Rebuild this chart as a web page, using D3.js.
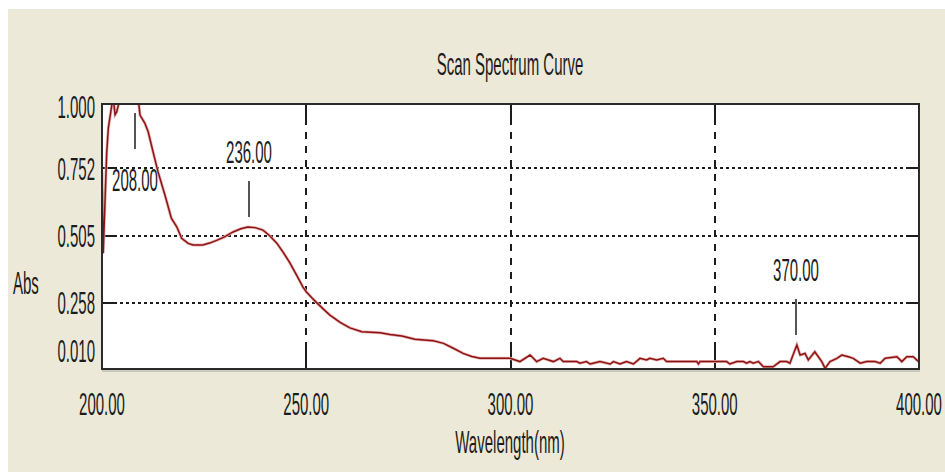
<!DOCTYPE html>
<html>
<head>
<meta charset="utf-8">
<script src="https://cdn.jsdelivr.net/npm/d3@7"></script>
<style>
  html, body { margin: 0; padding: 0; background: #fff; }
  svg { display: block; }
</style>
</head>
<body>
<div id="chart"></div>
<script>
// spectrum (nm / Abs)
const wavelength = [
  200.0, 200.3, 201.15, 201.55, 202.4, 202.8, 203.2, 203.6, 204.0, 204.5,
  206.0, 208.0, 208.6, 209.0, 209.3, 210.5, 211.3, 212.5, 213.7, 215.4,
  217.0, 218.3, 219.5, 221.1, 222.3, 224.7, 226.5, 228.2, 230.0, 232.1,
  234.0, 235.7, 237.5, 239.4, 241.0, 242.8, 244.4, 246.0, 247.6, 249.2,
  250.0, 251.3, 252.6, 254.2, 255.8, 258.3, 260.7, 263.6, 268.1, 270.5,
  273.4, 276.6, 281.1, 283.6, 286.0, 288.4, 290.5, 292.5, 299.9, 302.3,
  304.8, 306.4, 308.0, 310.5, 312.1, 312.9, 316.2, 317.0, 318.6, 319.5,
  321.9, 324.4, 325.2, 326.8, 328.4, 330.1, 331.7, 333.3, 334.1, 335.8,
  337.4, 338.2, 345.6, 346.0, 346.4, 352.9, 353.7, 355.4, 357.0, 357.8,
  358.6, 359.4, 360.7, 361.9, 364.3, 366.0, 367.6, 368.4, 370.1, 370.9,
  372.1, 372.9, 374.5, 376.2, 377.0, 378.2, 379.9, 381.1, 382.7, 383.9,
  385.6, 387.2, 389.2, 390.5, 391.7, 394.6, 395.8, 397.0, 398.6, 399.9
]
const absorbance = [
  0.74, 0.44, 0.81, 0.90, 0.985, 1.005, 0.95, 0.96, 0.985, 1.01,
  1.05, 1.08, 1.03, 0.99, 0.948, 0.918, 0.887, 0.813, 0.740, 0.654,
  0.568, 0.537, 0.495, 0.476, 0.470, 0.470, 0.478, 0.488, 0.500, 0.518,
  0.530, 0.536, 0.534, 0.525, 0.505, 0.477, 0.442, 0.404, 0.360, 0.315,
  0.298, 0.277, 0.257, 0.234, 0.212, 0.185, 0.165, 0.151, 0.147, 0.141,
  0.135, 0.123, 0.118, 0.108, 0.090, 0.071, 0.060, 0.053, 0.053, 0.041,
  0.065, 0.041, 0.053, 0.041, 0.053, 0.041, 0.041, 0.035, 0.041, 0.032,
  0.041, 0.032, 0.041, 0.032, 0.041, 0.032, 0.053, 0.047, 0.053, 0.047,
  0.053, 0.041, 0.041, 0.032, 0.041, 0.041, 0.032, 0.041, 0.041, 0.035,
  0.041, 0.035, 0.041, 0.022, 0.022, 0.041, 0.041, 0.035, 0.102, 0.065,
  0.071, 0.047, 0.077, 0.041, 0.016, 0.041, 0.053, 0.065, 0.059, 0.053,
  0.035, 0.041, 0.041, 0.035, 0.053, 0.059, 0.041, 0.059, 0.059, 0.041
]
const xTicks = [200, 250, 300, 350, 400]
const yTicks = [0.010, 0.258, 0.505, 0.752, 1.000]
const peaks = [208, 236, 370]

const width = 945, height = 475
const plot = { left: 102, right: 919, top: 104, bottom: 369 }
const font = 'Liberation Sans, Arial, sans-serif'
const stretch = 2.15 // text in the original is tall and narrow
const ink = '#1c1c1c'

const data = wavelength.map((w, i) => ({ w: w, a: absorbance[i] }))

const svg = d3.select('#chart').append('svg')
  .attr('width', width).attr('height', height)

// panel background
svg.append('rect')
  .attr('x', 8).attr('y', 9)
  .attr('width', width - 8).attr('height', 463)
  .attr('fill', '#ece9d8')

const xScale = d3.scaleLinear().domain([200, 400]).range([plot.left, plot.right])
const yScale = d3.scaleLinear().domain([0.01, 1.0]).range([370, 101])
// snapped versions for crisp grid lines
const gx = d => Math.round(xScale(d))
const gy = d => Math.round(yScale(d))

// helper for the stretched labels
function label(x, y, txt, anchor) {
  return svg.append('text')
    .attr('transform', `translate(${x},${y}) scale(1,${stretch})`)
    .attr('dy', '0.36em')
    .attr('text-anchor', anchor || 'middle')
    .style('font-family', font)
    .style('font-size', '15px')
    .attr('fill', ink)
    .text(txt)
}

svg.append('rect')
  .attr('x', plot.left).attr('y', plot.top)
  .attr('width', plot.right - plot.left).attr('height', plot.bottom - plot.top)
  .attr('fill', '#fff')

const grid = svg.append('g')

// horizontal dotted grid + short solid ticks on both sides
const innerY = yTicks.filter(v => v > 0.02 && v < 0.99)
grid.selectAll('.hgrid').data(innerY).enter().append('line')
  .attr('x1', plot.left).attr('x2', plot.right)
  .attr('y1', gy).attr('y2', gy)
  .attr('stroke', ink).attr('stroke-width', 2)
  .attr('stroke-dasharray', '3,3')
grid.selectAll('.htickL').data(innerY).enter().append('line')
  .attr('x1', plot.left).attr('x2', plot.left + 12)
  .attr('y1', gy).attr('y2', gy)
  .attr('stroke', ink).attr('stroke-width', 2)
grid.selectAll('.htickR').data(innerY).enter().append('line')
  .attr('x1', plot.right - 11).attr('x2', plot.right)
  .attr('y1', gy).attr('y2', gy)
  .attr('stroke', ink).attr('stroke-width', 2)

// vertical dashed grid + ticks top and bottom
const innerX = xTicks.slice(1, -1)
grid.selectAll('.vgrid').data(innerX).enter().append('line')
  .attr('x1', gx).attr('x2', gx)
  .attr('y1', plot.top).attr('y2', plot.bottom)
  .attr('stroke', ink).attr('stroke-width', 2)
  .attr('stroke-dasharray', '7,7')
grid.selectAll('.vtickT').data(innerX).enter().append('line')
  .attr('x1', gx).attr('x2', gx)
  .attr('y1', plot.top).attr('y2', plot.top + 20)
  .attr('stroke', ink).attr('stroke-width', 2)
grid.selectAll('.vtickB').data(innerX).enter().append('line')
  .attr('x1', gx).attr('x2', gx)
  .attr('y1', plot.bottom - 26).attr('y2', plot.bottom)
  .attr('stroke', ink).attr('stroke-width', 2)

// the curve, clipped to the plot box
svg.append('clipPath').attr('id', 'clip')
  .append('rect')
  .attr('x', plot.left).attr('y', plot.top)
  .attr('width', plot.right - plot.left).attr('height', plot.bottom - plot.top)

const line = d3.line().x(d => xScale(d.w)).y(d => yScale(d.a))

svg.append('path')
  .datum(data)
  .attr('clip-path', 'url(#clip)')
  .attr('d', line)
  .attr('fill', 'none')
  .attr('stroke', '#e3b3b3')
  .attr('stroke-width', 3)
svg.append('path')
  .datum(data)
  .attr('clip-path', 'url(#clip)')
  .attr('d', line)
  .attr('fill', 'none')
  .attr('stroke', '#8e1212')
  .attr('stroke-width', 1.5)

// frame
svg.append('rect')
  .attr('x', plot.left).attr('y', plot.top)
  .attr('width', plot.right - plot.left).attr('height', plot.bottom - plot.top)
  .attr('fill', 'none')
  .attr('stroke', '#2a2a2a').attr('stroke-width', 2)
svg.append('line')
  .attr('x1', plot.left).attr('x2', plot.right + 1)
  .attr('y1', plot.bottom + 2).attr('y2', plot.bottom + 2)
  .attr('stroke', '#a8a8a0').attr('stroke-width', 1)

// peak markers
peaks.forEach(p => {
  const near = data.reduce((a, b) => Math.abs(b.w - p) < Math.abs(a.w - p) ? b : a)
  const px = Math.round(xScale(p))
  let top = yScale(near.a) - 10 - 36
  let textY = top - 30
  if (top < plot.top + 9) { // peak runs off the top: put marker inside, label below
    top = plot.top + 9
    textY = top + 36 + 30
  }
  svg.append('line')
    .attr('x1', px).attr('x2', px)
    .attr('y1', top).attr('y2', top + 36)
    .attr('stroke', ink).attr('stroke-width', 1.5)
  label(px, textY, d3.format('.2f')(p))
})

// axis labels
xTicks.forEach(t => label(xScale(t), 403, d3.format('.2f')(t)))
yTicks.forEach(t => {
  const yy = Math.max(plot.top + 2, Math.min(yScale(t), plot.bottom - 19))
  label(95, yy, d3.format('.3f')(t), 'end')
})

label(510, 63, 'Scan Spectrum Curve')
label(510, 441, 'Wavelength(nm)')
label(13, 282, 'Abs', 'start')
</script>
</body>
</html>
